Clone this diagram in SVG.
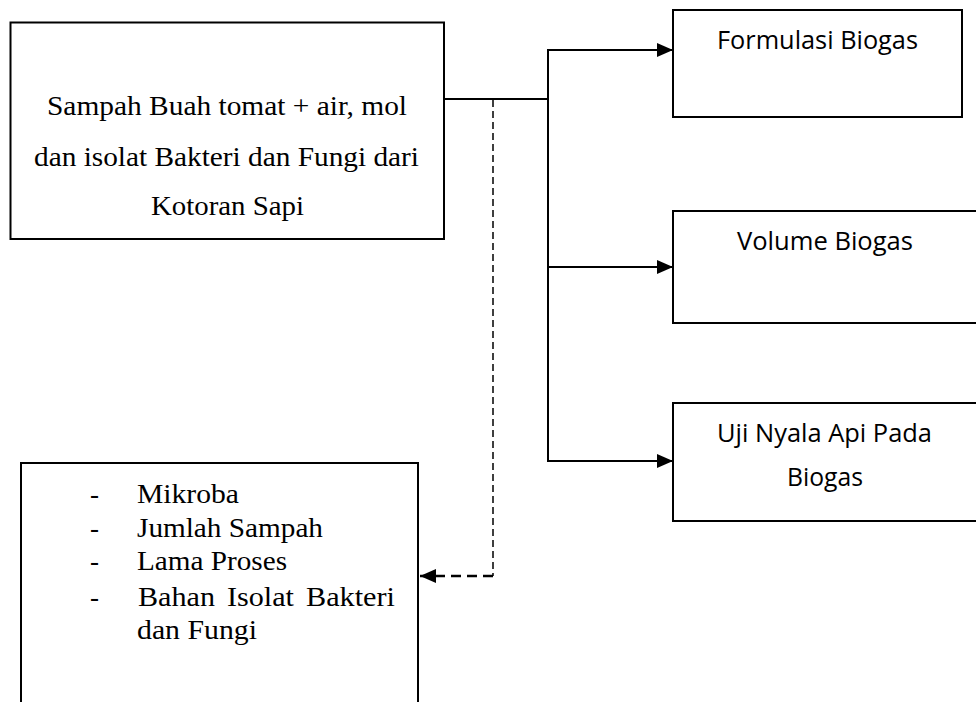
<svg xmlns="http://www.w3.org/2000/svg" width="976" height="702" viewBox="0 0 976 702">
<style>
.box{fill:#fff;stroke:#000;stroke-width:2}
.serif{font-family:"Liberation Serif","Times New Roman",serif;font-size:27px;fill:#000}
.sans{font-family:"Open Sans","Noto Sans",sans-serif;font-size:25px;fill:#000}
.ln{fill:none;stroke:#000;stroke-width:2}
.dashv{fill:none;stroke:#000;stroke-width:1.5;stroke-dasharray:7,4}
.dashh{fill:none;stroke:#000;stroke-width:2.5;stroke-dasharray:10,6}
</style>
<defs>
<marker id="ah" markerWidth="16" markerHeight="14" refX="16" refY="7" orient="auto" markerUnits="userSpaceOnUse">
<path d="M0,0 L16,7 L0,14 Z" fill="#000"/>
</marker>
</defs>
<g id="connectors">
<path class="ln" d="M444,99 H548"/>
<path class="ln" d="M548,49 V462"/>
<path class="ln" d="M547,50 H673" marker-end="url(#ah)"/>
<path class="ln" d="M547,267 H673" marker-end="url(#ah)"/>
<path class="ln" d="M547,461 H673" marker-end="url(#ah)"/>
<path class="dashv" d="M493,100 V576"/>
<path class="dashh" d="M493,576 H420" marker-end="url(#ah)"/>
</g>
<g id="input">
<rect class="box" x="10.5" y="22.5" width="433.5" height="216.5"/>
<text class="serif" x="47" y="115" textLength="360" lengthAdjust="spacingAndGlyphs">Sampah Buah tomat + air, mol</text>
<text class="serif" x="34" y="166" textLength="385" lengthAdjust="spacingAndGlyphs">dan isolat Bakteri dan Fungi dari</text>
<text class="serif" x="151" y="215" textLength="153" lengthAdjust="spacingAndGlyphs">Kotoran Sapi</text>
</g>
<g id="formulasi">
<rect class="box" x="673" y="10" width="289" height="107"/>
<text class="sans" x="717" y="49" textLength="201" lengthAdjust="spacingAndGlyphs">Formulasi Biogas</text>
</g>
<g id="volume">
<rect class="box" x="673" y="211" width="310" height="112"/>
<text class="sans" x="737" y="250" textLength="176" lengthAdjust="spacingAndGlyphs">Volume Biogas</text>
</g>
<g id="uji">
<rect class="box" x="673" y="403" width="310" height="118"/>
<text class="sans" x="717" y="442" textLength="215" lengthAdjust="spacingAndGlyphs">Uji Nyala Api Pada</text>
<text class="sans" x="787" y="486" textLength="76" lengthAdjust="spacingAndGlyphs">Biogas</text>
</g>
<g id="variabel">
<rect class="box" x="21" y="463" width="397" height="260"/>
<text class="serif" x="90" y="503">-</text>
<text class="serif" x="137" y="503" textLength="102" lengthAdjust="spacingAndGlyphs">Mikroba</text>
<text class="serif" x="90" y="537">-</text>
<text class="serif" x="137" y="537" textLength="186" lengthAdjust="spacingAndGlyphs">Jumlah Sampah</text>
<text class="serif" x="90" y="570">-</text>
<text class="serif" x="137" y="570" textLength="150" lengthAdjust="spacingAndGlyphs">Lama Proses</text>
<text class="serif" x="90" y="606">-</text>
<text class="serif" x="138" y="606" textLength="77" lengthAdjust="spacingAndGlyphs">Bahan</text>
<text class="serif" x="227" y="606" textLength="67" lengthAdjust="spacingAndGlyphs">Isolat</text>
<text class="serif" x="306" y="606" textLength="89" lengthAdjust="spacingAndGlyphs">Bakteri</text>
<text class="serif" x="137" y="639" textLength="120" lengthAdjust="spacingAndGlyphs">dan Fungi</text>
</g>
</svg>
